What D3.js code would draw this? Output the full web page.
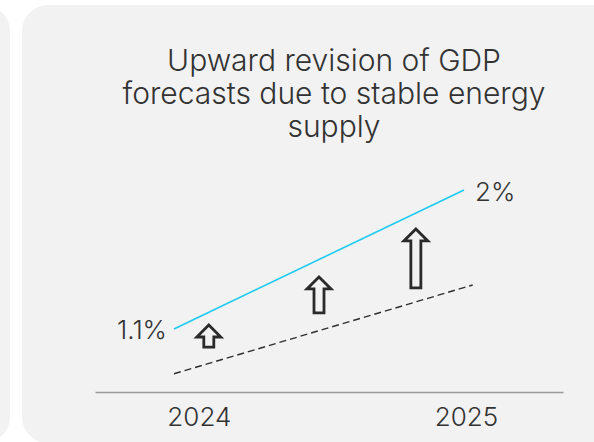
<!DOCTYPE html>
<html>
<head>
<meta charset="utf-8">
<script src="https://cdn.jsdelivr.net/npm/d3@7/dist/d3.min.js"></script>
<style>
  html, body { margin: 0; padding: 0; background: #ffffff; }
  svg { display: block; }
  text { font-family: Inter, "Open Sans", sans-serif; font-weight: 300; fill: #333333; }
</style>
</head>
<body>
<svg id="chart" width="594" height="442"></svg>
<script>
// Title lines
const titleLines = ["Upward revision of GDP", "forecasts due to stable energy", "supply"];

// Years shown on the axis
const years = ["2024", "2025"];

// Revised GDP forecast (%) — solid line
const revisedYears = [2024, 2025];
const revisedValues = [1.1, 2.0];
const revisedLabels = ["1.1%", "2%"];

// Earlier GDP forecast (%) — dashed line
const earlierYears = [2024, 2025.03];
const earlierValues = [0.81, 1.385];

// Upward-revision arrows: position (year) and start / end values (%)
const arrowYears = [2024.12, 2024.5, 2024.834];
const arrowFrom = [0.983, 1.204, 1.366];
const arrowTo = [1.126, 1.437, 1.748];

const svg = d3.select("#chart");

// Background cards
svg.append("rect")
  .attr("x", -590).attr("y", 5).attr("width", 600).attr("height", 438)
  .attr("rx", 26).attr("fill", "#f2f2f2");
svg.append("rect")
  .attr("x", 22).attr("y", 5).attr("width", 620).attr("height", 438)
  .attr("rx", 26).attr("fill", "#f2f2f2");

// Scales
const x = d3.scaleLinear().domain([2024, 2025]).range([174, 464]);
const y = d3.scaleLinear().domain([1.1, 2.0]).range([329, 190]);
const xAxisScale = d3.scalePoint().domain(years).range([95, 563]).padding(0.376).align(0.517);

// Fit a group of text elements so that one reference element reaches a target width
function fitGroup(sel, refNode, target) {
  const size = parseFloat(d3.select(refNode).attr("font-size"));
  const w = refNode.getComputedTextLength();
  sel.attr("font-size", size * target / w);
}

// Title
const title = svg.append("g").selectAll("text")
  .data(titleLines).join("text")
  .attr("x", 334)
  .attr("y", (d, i) => 71 + i * 33)
  .attr("text-anchor", "middle")
  .attr("font-size", 26)
  .text(d => d);
fitGroup(title, title.nodes()[1], 423);

// X axis
const axisG = svg.append("g")
  .attr("transform", "translate(0,392)")
  .call(d3.axisBottom(xAxisScale).tickSize(0).tickSizeOuter(0));
axisG.select(".domain").attr("stroke", "#9a9a9a").attr("stroke-width", 1.6);
const tickText = axisG.selectAll(".tick text")
  .attr("y", 34).attr("dy", null)
  .attr("font-size", 24)
  .attr("font-family", "Inter, 'Open Sans', sans-serif")
  .attr("font-weight", 300)
  .attr("fill", "#333333");

// Lines
const line = d3.line().x(d => x(d[0])).y(d => y(d[1]));

svg.append("path")
  .datum(d3.zip(earlierYears, earlierValues))
  .attr("d", line)
  .attr("fill", "none")
  .attr("stroke", "#2e2e2e")
  .attr("stroke-width", 1.4)
  .attr("stroke-dasharray", "7,4");

svg.append("path")
  .datum(d3.zip(revisedYears, revisedValues))
  .attr("d", line)
  .attr("fill", "none")
  .attr("stroke", "#1ccbf2")
  .attr("stroke-width", 1.6);

// Value labels
const valueLabels = svg.append("g").selectAll("text")
  .data(d3.zip(revisedYears, revisedValues, revisedLabels)).join("text")
  .attr("x", (d, i) => i === 0 ? x(d[0]) - 7 : x(d[0]) + 11)
  .attr("y", d => y(d[1]) + (d[1] === revisedValues[0] ? 10 : 11))
  .attr("text-anchor", (d, i) => i === 0 ? "end" : "start")
  .attr("font-size", 24)
  .text(d => d[2]);

// Size the small labels from the axis year label
fitGroup(tickText, tickText.nodes()[0], 64);
valueLabels.attr("font-size", tickText.attr("font-size"));

// Hollow upward arrows
const headW = 24, headH = 12, shaftW = 10;
function arrowPath(cx, yBottom, yTip) {
  const p = d3.path();
  p.moveTo(cx, yTip);
  p.lineTo(cx + headW / 2, yTip + headH);
  p.lineTo(cx + shaftW / 2, yTip + headH);
  p.lineTo(cx + shaftW / 2, yBottom);
  p.lineTo(cx - shaftW / 2, yBottom);
  p.lineTo(cx - shaftW / 2, yTip + headH);
  p.lineTo(cx - headW / 2, yTip + headH);
  p.closePath();
  return p.toString();
}
svg.append("g").selectAll("path")
  .data(d3.zip(arrowYears, arrowFrom, arrowTo)).join("path")
  .attr("d", d => arrowPath(x(d[0]), y(d[1]), y(d[2])))
  .attr("fill", "#f2f2f2")
  .attr("stroke", "#2a2a2a")
  .attr("stroke-width", 2.8)
  .attr("stroke-linejoin", "miter");
</script>
</body>
</html>
